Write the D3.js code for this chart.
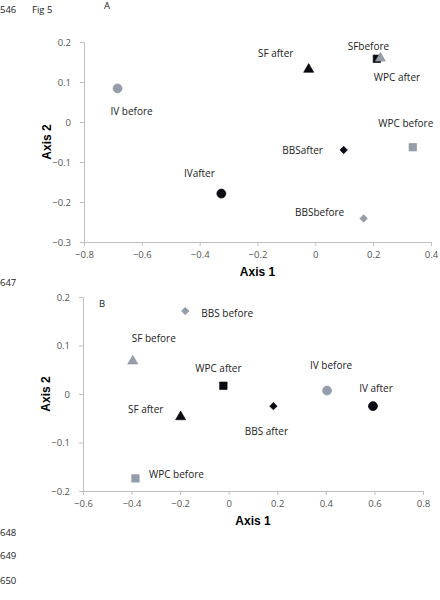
<!DOCTYPE html>
<html>
<head>
<meta charset="utf-8">
<script src="https://cdn.jsdelivr.net/npm/d3@7"></script>
<style>
  body { margin: 0; background: #fff; }
  svg { display: block; }
  .tick text { font-family: "Open Sans", sans-serif; font-size: 9.5px; fill: #555; }
</style>
</head>
<body>
<svg id="chart" width="440" height="600"></svg>
<script>
// panel A
const labelsA = ['IV before', 'SF after', 'SFbefore', 'WPC after', 'WPC before', 'BBSafter', 'IVafter', 'BBSbefore']
const xA = [-0.684, -0.023, 0.225, 0.213, 0.337, 0.098, -0.325, 0.167]
const yA = [0.084, 0.134, 0.162, 0.158, -0.063, -0.07, -0.179, -0.241]
const shapeA = ['circle', 'triangle', 'triangle', 'square', 'square', 'diamond', 'circle', 'diamond']
const toneA = ['before', 'after', 'before', 'after', 'before', 'after', 'after', 'before']
const xTicksA = [-0.8, -0.6, -0.4, -0.2, 0, 0.2, 0.4]
const yTicksA = [-0.3, -0.2, -0.1, 0, 0.1, 0.2]

// panel B
const labelsB = ['BBS before', 'SF before', 'WPC after', 'IV before', 'IV after', 'BBS after', 'SF after', 'WPC before']
const xB = [-0.179, -0.395, -0.022, 0.405, 0.594, 0.184, -0.198, -0.384]
const yB = [0.171, 0.070, 0.017, 0.007, -0.025, -0.025, -0.045, -0.174]
const shapeB = ['diamond', 'triangle', 'square', 'circle', 'circle', 'diamond', 'triangle', 'square']
const toneB = ['before', 'before', 'after', 'before', 'after', 'after', 'after', 'before']
const xTicksB = [-0.6, -0.4, -0.2, 0, 0.2, 0.4, 0.6, 0.8]
const yTicksB = [-0.2, -0.1, 0, 0.1, 0.2]

// label centre offsets relative to marker (px)
const offA = [[14, 23], [-33, -15], [-12, -11], [20, 19], [-7, -24], [-41, 0], [-22, -20], [-44, -6]]
const offB = [[42, 2], [21, -22], [-5, -17], [4, -25], [3, -18], [-7, 25], [-35, -6], [41, -4]]

const svg = d3.select('#chart')
const axisColor = '#bfbfbf'
const fills = { before: '#959daa', after: '#0a0a14' }

const symbols = {
  circle: d3.symbolCircle,
  triangle: d3.symbolTriangle,
  square: d3.symbolSquare,
  diamond: d3.symbolSquare // rotated below
}
const sizes = { circle: 64, triangle: 44, square: 56, diamond: 28 }

function drawPanel(opt) {
  const x = d3.scaleLinear().domain(opt.xDomain).range([opt.left, opt.right])
  const y = d3.scaleLinear().domain(opt.yDomain).range([opt.bottom, opt.top])

  const fmt = d => d === 0 ? '0' : d3.format('.1f')(d)

  const gx = svg.append('g').attr('transform', 'translate(0,' + opt.bottom + ')')
    .call(d3.axisBottom(x).tickValues(opt.xTicks).tickFormat(fmt).tickSize(4).tickPadding(5))
  gx.select('.domain').attr('stroke', axisColor)
  gx.selectAll('.tick line').attr('stroke', axisColor)

  const gy = svg.append('g').attr('transform', 'translate(' + opt.left + ',0)')
    .call(d3.axisLeft(y).tickValues(opt.yTicks).tickFormat(fmt).tickSize(4).tickPadding(9))
  gy.select('.domain').attr('stroke', axisColor)
  gy.selectAll('.tick line').attr('stroke', axisColor)

  svg.append('text')
    .attr('x', (opt.left + opt.right) / 2).attr('y', opt.bottom + 34)
    .attr('text-anchor', 'middle')
    .attr('font-family', 'Liberation Sans, Arial, sans-serif')
    .attr('font-weight', 'bold').attr('font-size', 12)
    .text('Axis 1')

  svg.append('text')
    .attr('transform', 'translate(' + (opt.left - 33) + ',' + ((opt.top + opt.bottom) / 2) + ') rotate(-90)')
    .attr('text-anchor', 'middle')
    .attr('font-family', 'Liberation Sans, Arial, sans-serif')
    .attr('font-weight', 'bold').attr('font-size', 12)
    .text('Axis 2')

  const pts = opt.labels.map((l, i) => ({ label: l, x: opt.xs[i], y: opt.ys[i], shape: opt.shapes[i], tone: opt.tones[i], off: opt.offs[i] }))

  // black markers underneath, grey ones on top (as in the original)
  const ordered = pts.slice().sort((a, b) => (a.tone === 'after' ? 0 : 1) - (b.tone === 'after' ? 0 : 1))

  svg.append('g').selectAll('path').data(ordered).join('path')
    .attr('transform', d => 'translate(' + x(d.x) + ',' + y(d.y) + ')' +
      (d.shape === 'triangle' ? ' translate(0,1)' : '') +
      (d.shape === 'diamond' ? ' rotate(45)' : ''))
    .attr('d', d => d3.symbol().type(symbols[d.shape]).size(sizes[d.shape])())
    .attr('fill', d => fills[d.tone])
    .attr('stroke', d => d.tone === 'before' ? '#8a92a0' : '#000')
    .attr('stroke-width', 0.6)

  svg.append('g').selectAll('text').data(pts).join('text')
    .attr('x', d => x(d.x) + d.off[0])
    .attr('y', d => y(d.y) + d.off[1])
    .attr('dy', '0.35em')
    .attr('text-anchor', 'middle')
    .attr('font-family', 'Open Sans, sans-serif')
    .attr('font-size', 10)
    .attr('fill', '#222')
    .text(d => d.label)
}

drawPanel({
  left: 84, right: 431, top: 42, bottom: 242,
  xDomain: [-0.8, 0.4], yDomain: [-0.3, 0.2],
  xTicks: xTicksA, yTicks: yTicksA,
  labels: labelsA, xs: xA, ys: yA, shapes: shapeA, tones: toneA, offs: offA
})

drawPanel({
  left: 83, right: 423, top: 297, bottom: 491,
  xDomain: [-0.6, 0.8], yDomain: [-0.2, 0.2],
  xTicks: xTicksB, yTicks: yTicksB,
  labels: labelsB, xs: xB, ys: yB, shapes: shapeB, tones: toneB, offs: offB
})

// page furniture from the manuscript
const small = (t, px, py) => svg.append('text').attr('x', px).attr('y', py).attr('dy', '0.35em')
  .attr('font-family', 'Open Sans, sans-serif').attr('font-size', 9.5).attr('fill', '#222').text(t)
small('546', 0, 10)
small('Fig 5', 32, 10)
small('A', 104, 6)
small('647', 0, 283)
small('B', 99, 304)
small('648', 0, 533)
small('649', 0, 556)
small('650', 0, 581)
</script>
</body>
</html>
